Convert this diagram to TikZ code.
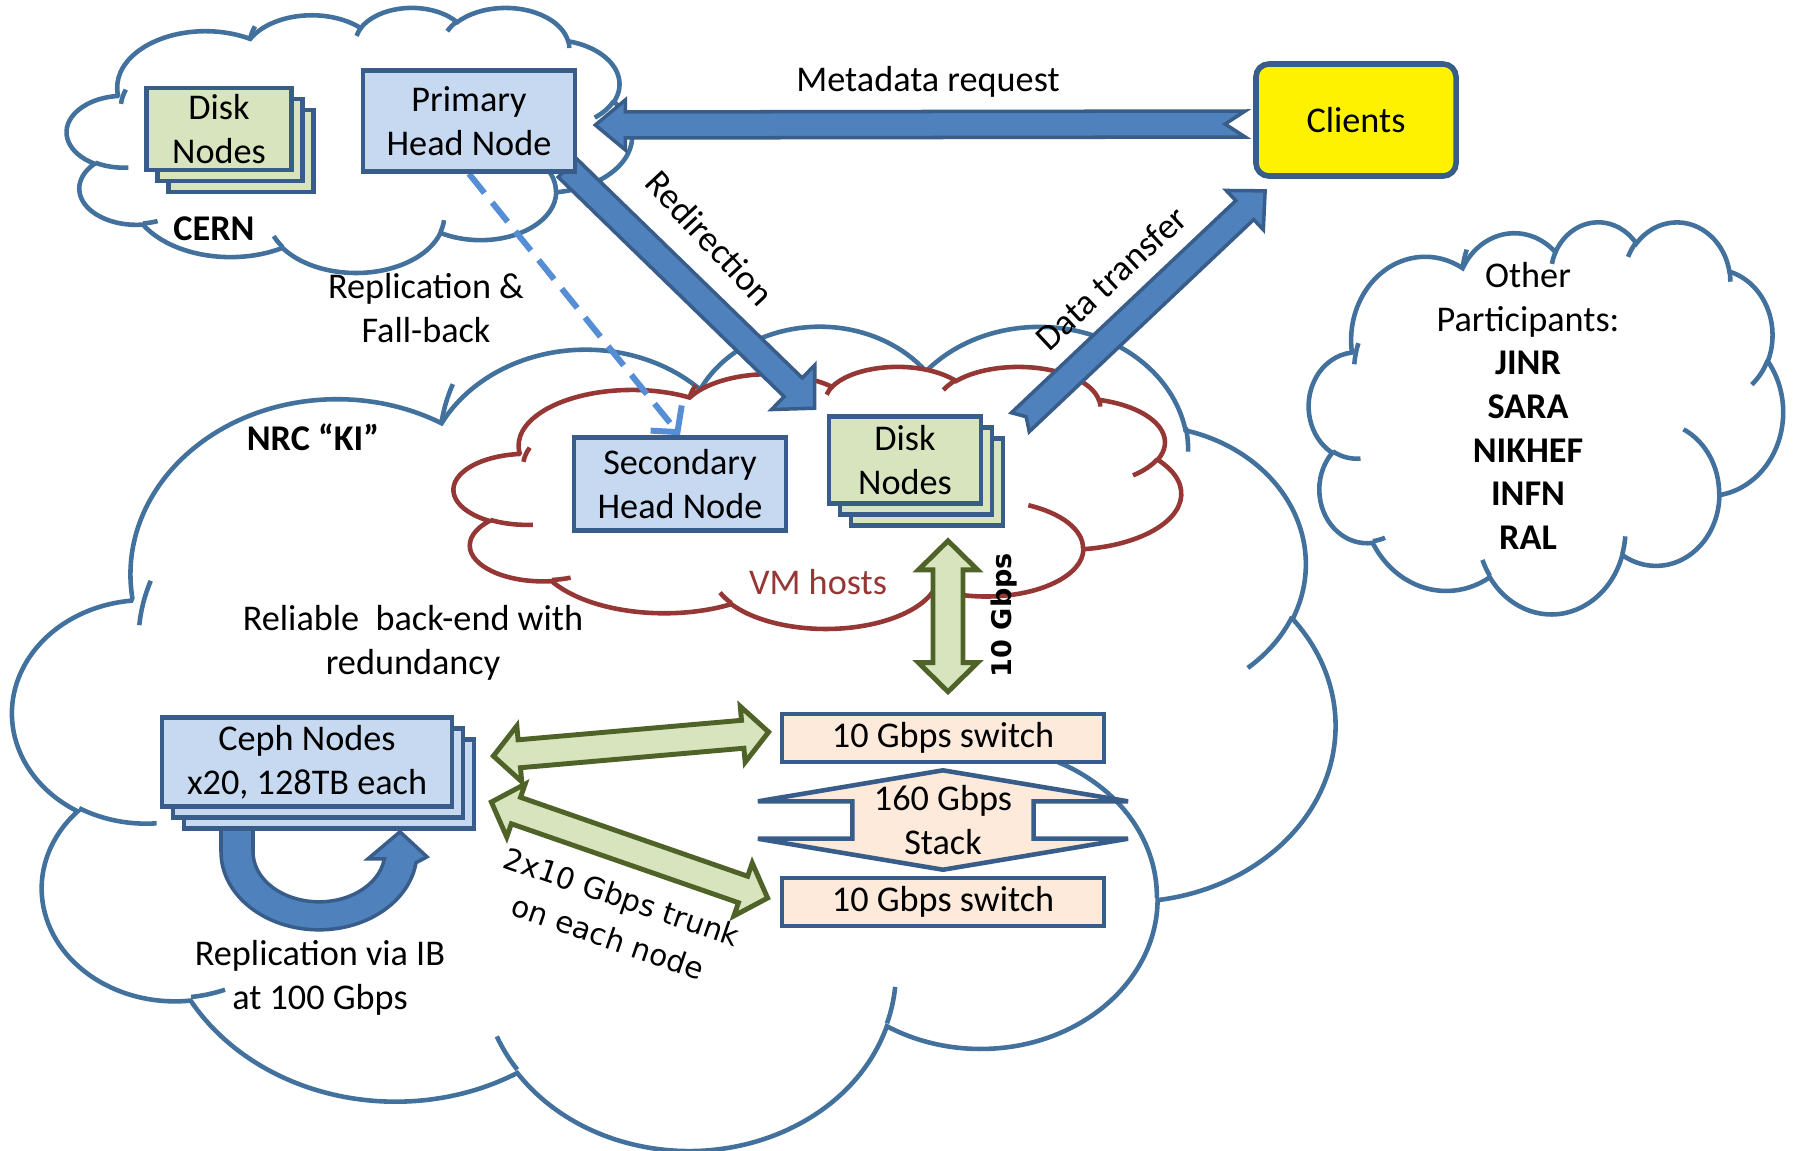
\documentclass[tikz,border=0pt]{standalone}
\usepackage{fontspec}
\setmainfont{Carlito}
\newfontfamily\vfont{DejaVu Sans}
\usetikzlibrary{calc,arrows.meta,shadows}

\definecolor{cloudblue}{HTML}{41719C}
\definecolor{boxblue}{HTML}{C6D9F1}
\definecolor{edgeblue}{HTML}{385D8A}
\definecolor{arrowblue}{HTML}{4F81BD}
\definecolor{diskgreen}{HTML}{D7E4BD}
\definecolor{edgegreen}{HTML}{4F6228}
\definecolor{peach}{HTML}{FDEADA}
\definecolor{vmred}{HTML}{953735}
\definecolor{dashblue}{HTML}{558ED5}

\pgfdeclarelayer{clouds}
\pgfdeclarelayer{links}
\pgfsetlayers{clouds,links,main}

\newcommand\mainfnt{\fontsize{10.3pt}{12.4pt}\selectfont}

% cloud outline arc: radii, start angle, sweep
\newcommand\carc[4]{arc[x radius=#1, y radius=#2,
  start angle={atan2((#1)*sin(#3),(#2)*cos(#3))},
  delta angle={mod(atan2((#1)*sin((#3)+(#4)),(#2)*cos((#3)+(#4)))-atan2((#1)*sin(#3),(#2)*cos(#3))+720,360)}]}

\tikzset{
  pics/cloudshape/.style 2 args={code={
    \begin{scope}[xscale=#1/100, yscale=#2/100]
      \path[pic actions] (9.028,33.264)
        \carc{15.632}{21.273}{-190.4875}{123.7805}
        \carc{12.345}{16.822}{-144.1024}{89.9452}
        \carc{10.104}{13.762}{-145.8079}{99.7230}
        \carc{11.243}{15.266}{-130.9861}{117.2417}
        \carc{12.345}{16.836}{-78.7089}{109.0269}
        \carc{15.683}{21.343}{-46.2673}{130.2690}
        \carc{13.391}{18.211}{0.6250}{114.0333}
        \carc{15.630}{21.331}{22.4516}{115.1726}
        \carc{17.870}{24.405}{66.2426}{75.7110}
        \carc{10.093}{13.699}{-274.9421}{146.7356}
        \carc{10.058}{13.762}{-246.8285}{152.5189}
        -- cycle;
      \path[pic actions, fill=none]
        (10.863,60.595) \carc{10.058}{13.762}{86.742}{26.4295}
        (16.037,80.785) \carc{10.093}{13.699}{73.6105}{11.4475}
        (38.144,90.486) \carc{15.630}{21.331}{137.6242}{14.0811}
        (66.729,80.442) \carc{15.630}{21.331}{6.4533}{15.9984}
        (79.002,53.134) \carc{13.391}{18.211}{-70.2924}{70.9174}
        (96.755,35.542) \carc{12.345}{16.836}{30.3180}{27.7515}
        (88.713,12.560) \carc{11.243}{15.266}{-13.7443}{14.8589}
        (67.310,9.148) \carc{11.243}{15.266}{-149.1815}{18.1954}
        (51.252,10.926) \carc{10.104}{13.762}{-163.4943}{17.6864}
        (32.407,12.019) \carc{15.632}{21.273}{-169.9685}{16.9844}
        (9.553,36.549) \carc{15.632}{21.273}{-173.3412}{19.4235};
    \end{scope}
  }}
}

% style, from, to, shaft half width, head half width, head length, notch
\newcommand\blockarrow[7]{%
  \coordinate (ba) at ($(#3)!#6!(#2)$);
  \path[#1] ($(#2)!#4!90:(#3)$) -- ($(ba)!#4!90:(#3)$) -- ($(ba)!#5!90:(#3)$)
    -- (#3) -- ($(ba)!#5!-90:(#3)$) -- ($(ba)!#4!-90:(#3)$)
    -- ($(#2)!#4!-90:(#3)$) -- ($(#2)!#7!(#3)$) -- cycle;}

% style, from, to, shaft half width, head half width, head length
\newcommand\twinarrow[6]{%
  \coordinate (ta) at ($(#2)!#6!(#3)$);
  \coordinate (tb) at ($(#3)!#6!(#2)$);
  \path[#1] (#2) -- ($(ta)!#5!90:(#3)$) -- ($(ta)!#4!90:(#3)$)
    -- ($(tb)!#4!90:(#3)$) -- ($(tb)!#5!90:(#3)$) -- (#3)
    -- ($(tb)!#5!-90:(#3)$) -- ($(tb)!#4!-90:(#3)$)
    -- ($(ta)!#4!-90:(#3)$) -- ($(ta)!#5!-90:(#3)$) -- cycle;}

\begin{document}
\begin{tikzpicture}[x=0.01cm, y=-0.01cm,
  every node/.style={font=\mainfnt, align=center},
  box/.style={draw=edgeblue, line width=1.3pt, inner sep=0pt},
  headbox/.style={box, fill=boxblue},
  stackbox/.style={box, double copy shadow={shadow xshift=0.11cm, shadow yshift=-0.11cm}},
  diskbox/.style={stackbox, fill=diskgreen},
  cephbox/.style={stackbox, fill=boxblue},
  switchbox/.style={box, fill=peach},
  clientbox/.style={box, fill=yellow, rounded corners=0.13cm, line width=1.6pt},
  bluearrow/.style={fill=arrowblue, draw=edgeblue, line width=1pt},
  greenarrow/.style={fill=diskgreen, draw=edgegreen, line width=1.4pt},
  stackarrow/.style={fill=peach, draw=edgeblue, line width=1.3pt},
  repl/.style={draw=dashblue, line width=1.7pt, dash pattern=on 7pt off 3.5pt},
  cloudline/.style={fill=white, line width=1.3pt}]
\useasboundingbox (0,0) rectangle (1793,1150);

\begin{pgfonlayer}{clouds}
\fill[white] (0,0) rectangle (1793,1150);
\pic[cloudline, draw=cloudblue] at (13,324) {cloudshape={1322}{824}};
\pic[cloudline, draw=vmred] at (454,366) {cloudshape={727}{262}};
\pic[cloudline, draw=cloudblue] at (67,7) {cloudshape={565}{265}};
\pic[cloudline, draw=cloudblue] at (1309,221) {cloudshape={474}{392}};
\end{pgfonlayer}

\node[diskbox, minimum width=1.45cm, minimum height=0.82cm] (cerndisk) at (219,129) {Disk\\Nodes};
\node[headbox, minimum width=2.12cm, minimum height=1.01cm] (primary) at (469,121) {Primary\\Head Node};
\node[font=\mainfnt\bfseries] (cern) at (214,229) {CERN};
\node[clientbox, minimum width=2cm, minimum height=1.12cm] (clients) at (1356,120) {Clients};
\node[headbox, minimum width=2.12cm, minimum height=0.93cm] (secondary) at (680,484) {Secondary\\Head Node};
\node[diskbox, minimum width=1.52cm, minimum height=0.87cm] (vmdisk) at (905,460) {Disk\\Nodes};
\node[cephbox, minimum width=2.9cm, minimum height=0.89cm] (ceph) at (307,762) {Ceph Nodes\\x20, 128TB each};
\node[switchbox, minimum width=3.22cm, minimum height=0.48cm] (sw1) at (943,738) {10 Gbps switch};
\node[switchbox, minimum width=3.22cm, minimum height=0.48cm] (sw2) at (943,902) {10 Gbps switch};

\begin{pgfonlayer}{links}
\coordinate (md-a) at ($(clients.west)+(-8,4)$);
\coordinate (md-b) at ($(primary.east)+(18,4)$);
\blockarrow{bluearrow}{md-a}{md-b}{0.13cm}{0.25cm}{0.3cm}{0.2cm}
\coordinate (rd-a) at ($(primary.south east)+(-10,-6)$);
\coordinate (rd-b) at ($(vmdisk.north west)+(-12,-6)$);
\blockarrow{bluearrow}{rd-a}{rd-b}{0.13cm}{0.31cm}{0.3cm}{0cm}
\coordinate (dt-a) at ($(vmdisk.north east)+(37,8)$);
\coordinate (dt-b) at ($(clients.south west)+(12,12)$);
\blockarrow{bluearrow}{dt-a}{dt-b}{0.13cm}{0.27cm}{0.28cm}{0.08cm}
\draw[repl, -{Straight Barb[length=1.8mm, width=4mm]}] (primary.south) -- (secondary.north);

\coordinate (g1-a) at ($(vmdisk.south)+(43,35)$);
\coordinate (g1-b) at ($(sw1.north)+(5,-20)$);
\twinarrow{greenarrow}{g1-a}{g1-b}{0.15cm}{0.295cm}{0.29cm}
\coordinate (g2-a) at ($(ceph.east)+(39,-6)$);
\coordinate (g2-b) at ($(sw1.west)+(-11,-6)$);
\twinarrow{greenarrow}{g2-a}{g2-b}{0.14cm}{0.28cm}{0.26cm}
\coordinate (g3-a) at ($(ceph.east)+(37,40)$);
\coordinate (g3-b) at ($(sw2.west)+(-12,-4)$);
\twinarrow{greenarrow}{g3-a}{g3-b}{0.14cm}{0.28cm}{0.26cm}

\coordinate (st-a) at ($(sw1.south)+(0,6)$);
\coordinate (st-b) at ($(sw2.north)+(0,-6)$);
\twinarrow{stackarrow}{st-a}{st-b}{0.905cm}{1.85cm}{0.31cm}

\coordinate (uc) at ($(ceph.south)+(12,43)$);
\path[bluearrow] ($(uc)+(-98,-26)$) -- ($(uc)+(-98,0)$)
  arc[start angle=180, end angle=8, x radius=98, y radius=78]
  -- ($(uc)+(108,5)$) -- ($(uc)+(81,-20)$) -- ($(uc)+(49,7)$) -- ($(uc)+(8:66 and 50)$)
  arc[start angle=8, end angle=180, x radius=66, y radius=50]
  -- ($(uc)+(-66,-26)$) -- cycle;
\end{pgfonlayer}

\node (stack) at ($(st-a)!0.5!(st-b)$) {160 Gbps\\Stack};
\node (mdlbl) at (928,82) {Metadata request};
\node[rotate=-47] (redirlbl) at (710,238) {Redirection};
\node[rotate=43] (datalbl) at (1111,278) {Data transfer};
\node (repllbl) at (426,308) {Replication \&\\Fall-back};
\node[font=\mainfnt\bfseries] (nrc) at (313,437) {NRC “KI”};
\node[text=vmred] (vmlbl) at (818,582) {VM hosts};
\node (reliable) at (413,643) {Reliable\ \ back-end with\\redundancy};
\node (ibrepl) at (320,978) {Replication via IB\\at 100 Gbps};
\node[rotate=90, font=\vfont\bfseries\fontsize{7.7pt}{9pt}\selectfont] (gbps) at (1004,615) {10 Gbps};
\node[rotate=-19, font=\vfont\fontsize{8.4pt}{12.1pt}\selectfont] (trunk) at (615,917) {2x10 Gbps trunk\\on each node};
\node (others) at (1528,406) {Other\\Participants:\\\textbf{JINR}\\\textbf{SARA}\\\textbf{NIKHEF}\\\textbf{INFN}\\\textbf{RAL}};
\end{tikzpicture}
\end{document}
